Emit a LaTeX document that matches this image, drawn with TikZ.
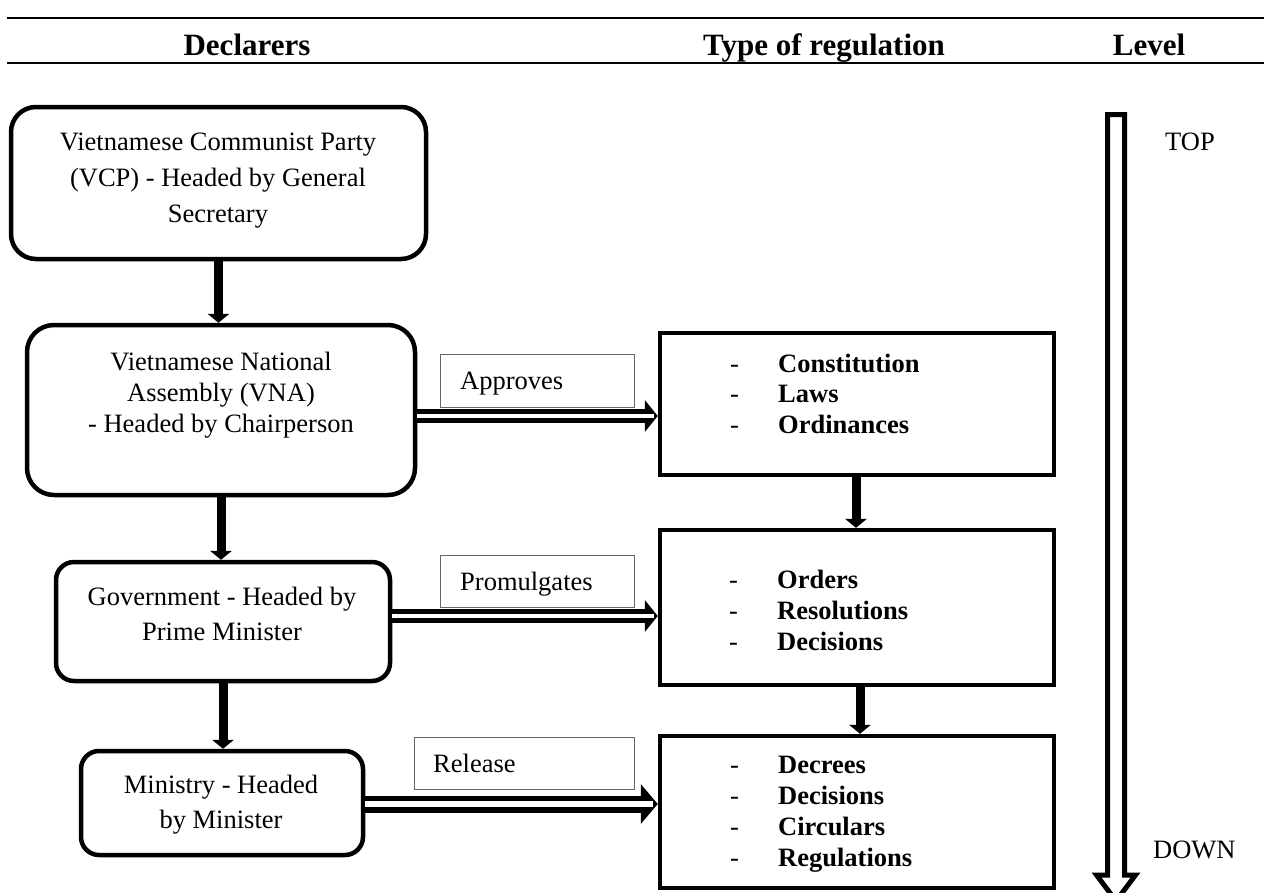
\documentclass[tikz,border=0pt]{standalone}
\usepackage{fontspec}
\setmainfont{Liberation Serif}
\usetikzlibrary{arrows.meta}
\begin{document}
\begin{tikzpicture}[x=1pt,y=-1pt,
  declbox/.style={draw, line width=4.5pt, rounded corners=#1, inner sep=0pt},
  regbox/.style={draw, line width=4.5pt, inner sep=0pt},
  lblbox/.style={draw=black!60, line width=1pt, inner sep=0pt},
  body/.style={inner sep=0pt, font={\fontsize{26.5}{#1}\selectfont}},
  head/.style={inner sep=0pt, anchor=base, font={\fontsize{31}{36}\selectfont\bfseries}},
  varr/.style={line width=9pt, -{Triangle[width=22pt,length=9pt,line width=0pt]}},
  dblA/.style={line width=13.5pt, -{Triangle[width=32pt,length=13pt,line width=0pt]},
    postaction={draw=white, line width=4pt, -, shorten >=4pt}},
  dblB/.style={line width=17pt, -{Triangle[width=40pt,length=17pt,line width=0pt]},
    postaction={draw=white, line width=6pt, -, shorten >=5pt}},
  rule/.style={line width=2pt}
]
\useasboundingbox (0,0) rectangle (1264,892);
\clip (0,0) rectangle (1264,892);

% header
\draw[rule] (7,18) -- (1264,18);
\draw[rule] (7,63) -- (1264,63);
\node[head] (h1) at (247,55) {Declarers};
\node[head] (h2) at (824,55) {Type of regulation};
\node[head] (h3) at (1149,55) {Level};

% declarer boxes
\node[declbox=25pt, minimum width=415pt, minimum height=152pt] (vcp) at (218.5,183) {};
\node[declbox=27pt, minimum width=388pt, minimum height=170pt] (vna) at (221,410) {};
\node[declbox=18pt, minimum width=334pt, minimum height=119pt] (gov) at (223,621.5) {};
\node[declbox=18pt, minimum width=282pt, minimum height=104pt] (min) at (222,803) {};

\node[body=36pt, align=center, anchor=north] (tvcp) at (218,124.8)
  {\strut Vietnamese Communist Party\\\strut (VCP) - Headed by General\\\strut Secretary};
\node[body=31pt, align=center, anchor=north] (tvna) at (221,348.3)
  {\strut Vietnamese National\\\strut Assembly (VNA)\\\strut - Headed by Chairperson};
\node[body=35pt, align=center, anchor=north] (tgov) at (222,580.5)
  {\strut Government - Headed by\\\strut Prime Minister};
\node[body=35pt, align=center, anchor=north] (tmin) at (221,768.5)
  {\strut Ministry - Headed\\\strut by Minister};

% regulation boxes
\node[regbox, minimum width=394pt, minimum height=142pt] (con) at (857,404) {};
\node[regbox, minimum width=394pt, minimum height=155pt] (ord) at (857,607.5) {};
\node[regbox, minimum width=394pt, minimum height=152pt] (dec) at (857,812) {};

\node[body=30.5pt, align=left, anchor=north west] (tcon) at (730,350.65)
  {\strut\makebox[48pt][l]{-}\textbf{Constitution}\\
   \strut\makebox[48pt][l]{-}\textbf{Laws}\\
   \strut\makebox[48pt][l]{-}\textbf{Ordinances}};
\node[body=31pt, align=left, anchor=north west] (tord) at (729,566.3)
  {\strut\makebox[48pt][l]{-}\textbf{Orders}\\
   \strut\makebox[48pt][l]{-}\textbf{Resolutions}\\
   \strut\makebox[48pt][l]{-}\textbf{Decisions}};
\node[body=31pt, align=left, anchor=north west] (tdec) at (730,751.3)
  {\strut\makebox[48pt][l]{-}\textbf{Decrees}\\
   \strut\makebox[48pt][l]{-}\textbf{Decisions}\\
   \strut\makebox[48pt][l]{-}\textbf{Circulars}\\
   \strut\makebox[48pt][l]{-}\textbf{Regulations}};

% label boxes
\node[lblbox, minimum width=194pt, minimum height=53pt] (app) at (537,380.5) {};
\node[lblbox, minimum width=194pt, minimum height=52pt] (pro) at (537,581) {};
\node[lblbox, minimum width=220pt, minimum height=52pt] (rel) at (524,763) {};
\node[body=30pt, anchor=base west] (tapp) at (460,389) {Approves};
\node[body=30pt, anchor=base west] (tpro) at (460,590) {Promulgates};
\node[body=30pt, anchor=base west] (trel) at (433,772) {Release};

% vertical arrows
\draw[varr] (vcp.south) -- (vcp.south |- vna.north);
\draw[varr] (vna.south) -- (vna.south |- gov.north);
\draw[varr] (gov.south) -- (gov.south |- min.north);
\coordinate (c1) at ([xshift=-1pt]con.south);
\coordinate (c2) at ([xshift=3pt]ord.south);
\draw[varr] (c1) -- (c1 |- ord.north);
\draw[varr] (c2) -- (c2 |- dec.north);

% double arrows
\coordinate (s1) at ([yshift=-6pt]vna.east);
\coordinate (s2) at ([yshift=5.5pt]gov.east);
\coordinate (s3) at ([yshift=-1pt]min.east);
\draw[dblA] (s1) -- (s1 -| con.west);
\draw[dblA] (s2) -- (s2 -| ord.west);
\draw[dblB] (s3) -- (s3 -| dec.west);

% level arrow
\draw[line width=5pt, miter limit=10] (1107.5,114.5) -- (1124.5,114.5) -- (1124.5,875)
  -- (1135.5,875) -- (1116,901) -- (1096.5,875) -- (1107.5,875) -- cycle;
\node[body=30pt, anchor=base west] (top) at (1165,150) {TOP};
\node[body=30pt, anchor=base west] (down) at (1153,858) {DOWN};
\end{tikzpicture}
\end{document}
